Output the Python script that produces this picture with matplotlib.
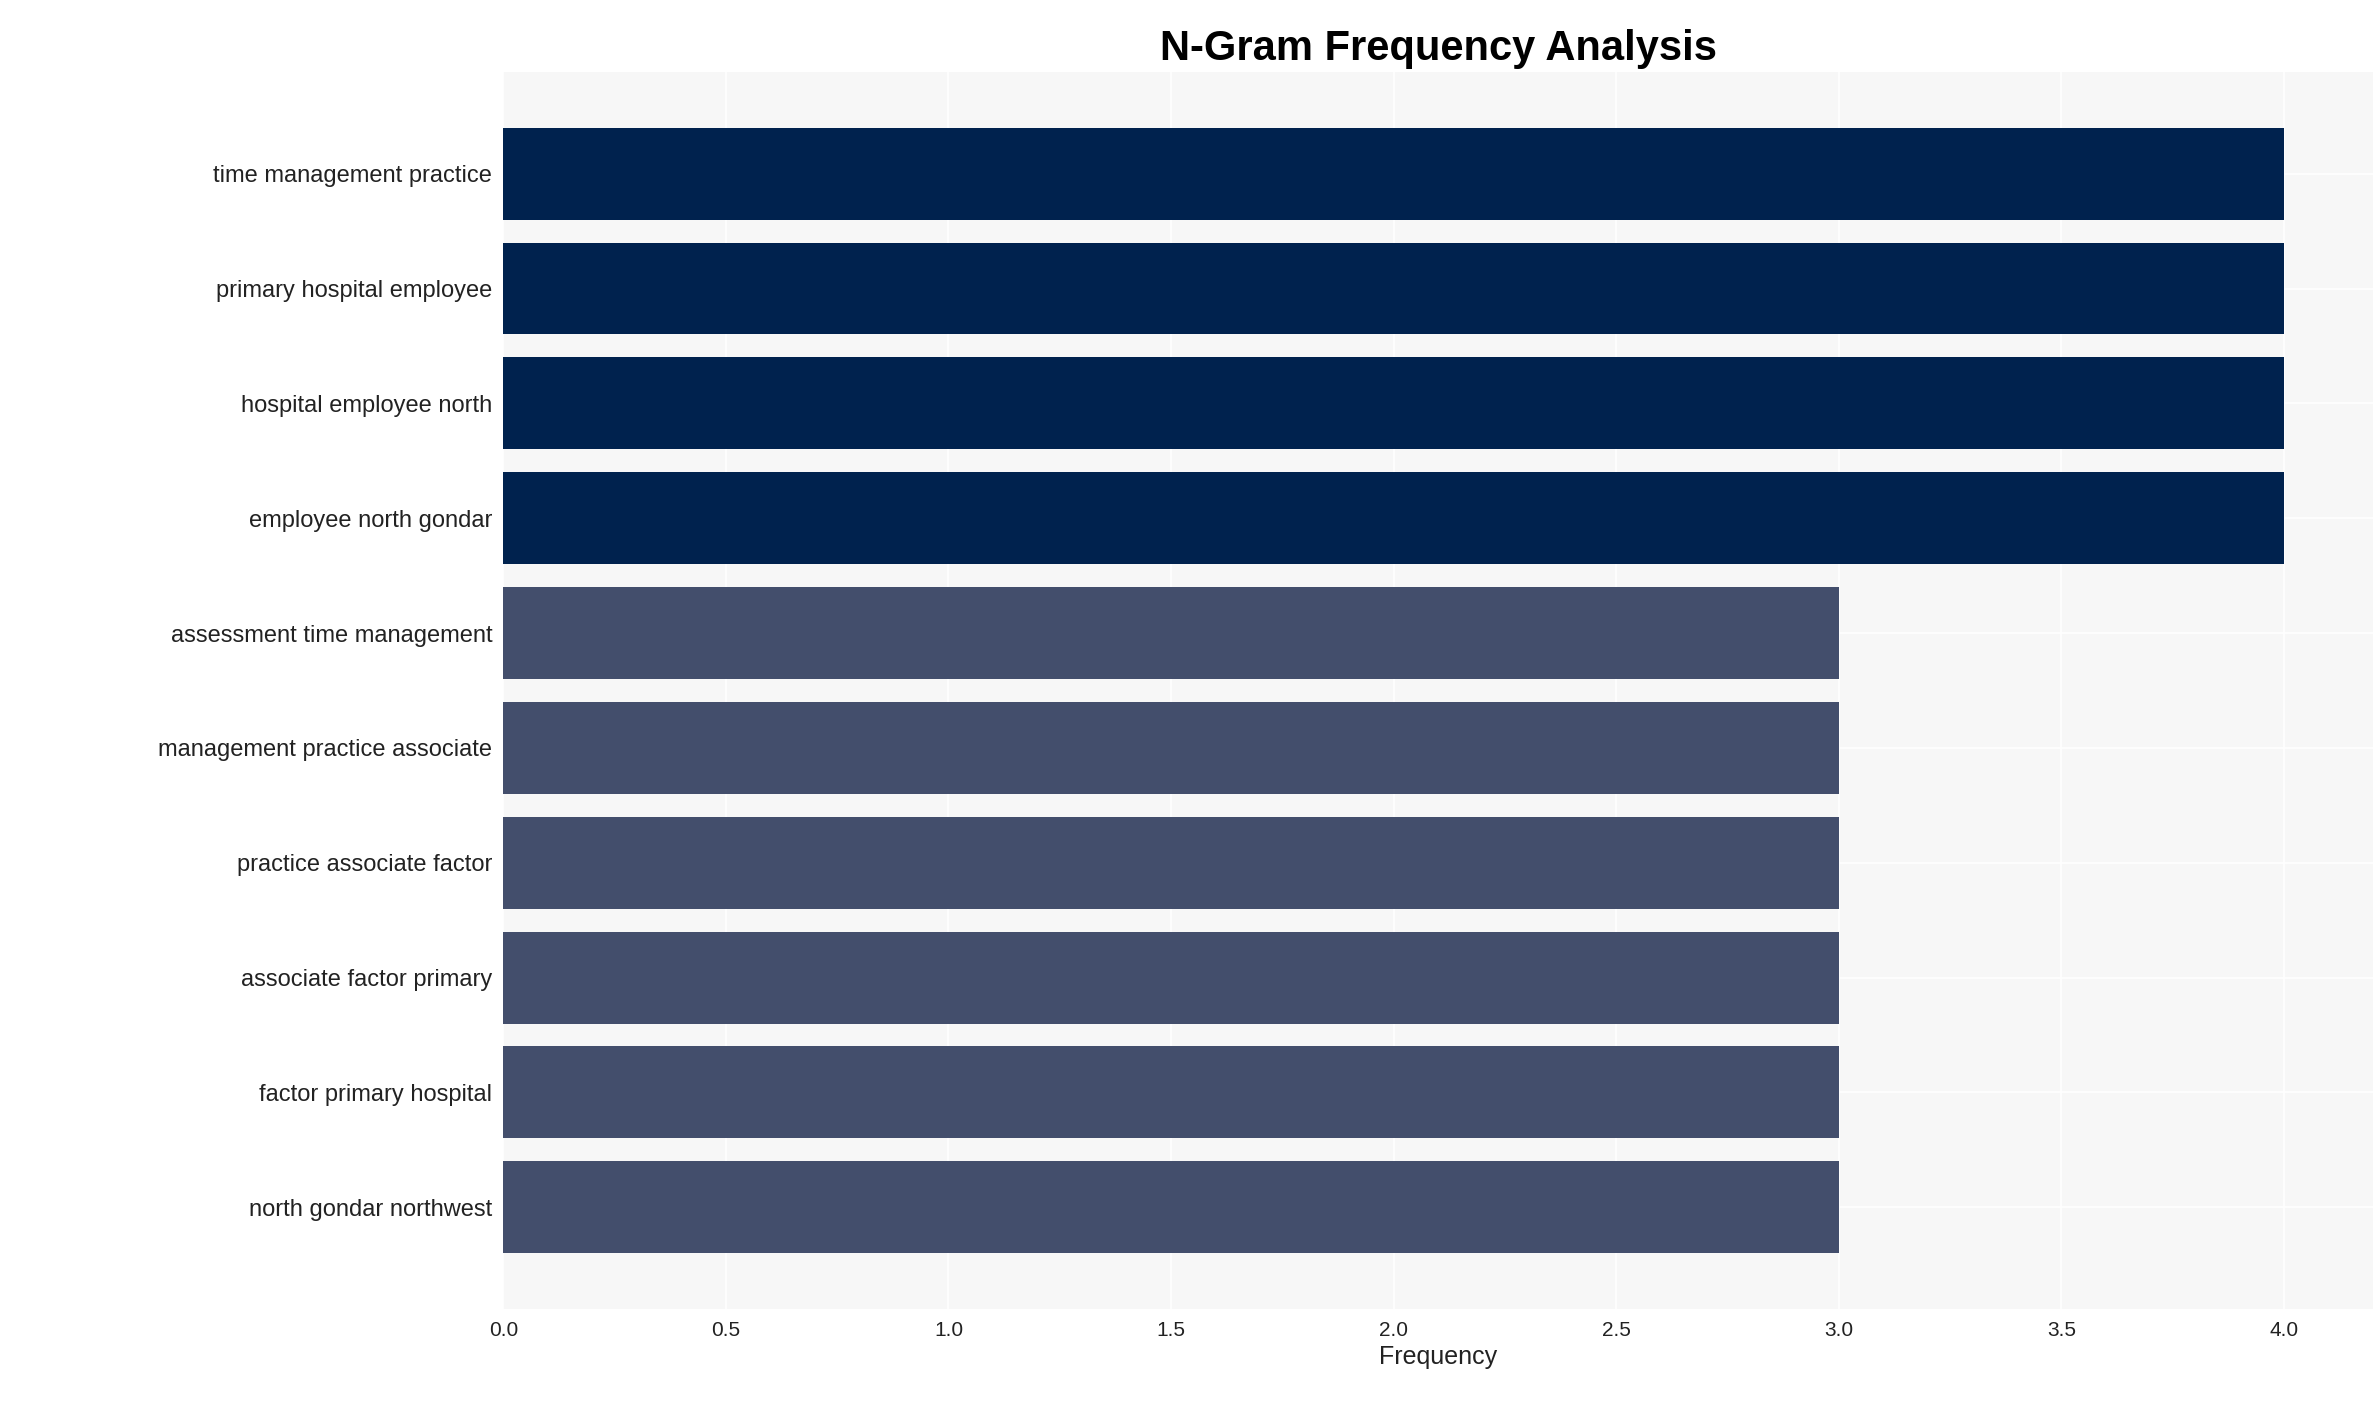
import matplotlib
matplotlib.use("Agg")
import matplotlib.pyplot as plt

plt.rcParams['font.family'] = ['Liberation Sans', 'DejaVu Sans']

labels = ["time management practice", "primary hospital employee", "hospital employee north",
          "employee north gondar", "assessment time management", "management practice associate",
          "practice associate factor", "associate factor primary", "factor primary hospital",
          "north gondar northwest"]
values = [4, 4, 4, 4, 3, 3, 3, 3, 3, 3]
colors = ["#00224e" if v == 4 else "#434e6c" for v in values]

fig = plt.figure(figsize=(23.8, 14.02), dpi=100)
ax = fig.add_axes([0.2115, 0.066, 0.7855, 0.883])
ax.set_facecolor("#f7f7f7")
y = list(range(len(labels)))[::-1]
ax.barh(y, values, height=0.8, color=colors, zorder=3)
ax.set_yticks(y)
ax.set_yticklabels(labels, fontsize=17, color="#222222")
ax.set_xlim(0, 4.2)
ax.set_xticks([0, 0.5, 1, 1.5, 2, 2.5, 3, 3.5, 4])
ax.set_xticklabels(["0.0", "0.5", "1.0", "1.5", "2.0", "2.5", "3.0", "3.5", "4.0"], fontsize=15, color="#222222")
ax.grid(True, color="white", linewidth=1.2, zorder=0)
for s in ax.spines.values():
    s.set_visible(False)
ax.tick_params(length=0, pad=8)
ax.set_xlabel("Frequency", fontsize=18, color="#222222")
ax.set_title("N-Gram Frequency Analysis", fontsize=30, fontweight="bold", pad=8)
fig.savefig("out.png", dpi=100)
